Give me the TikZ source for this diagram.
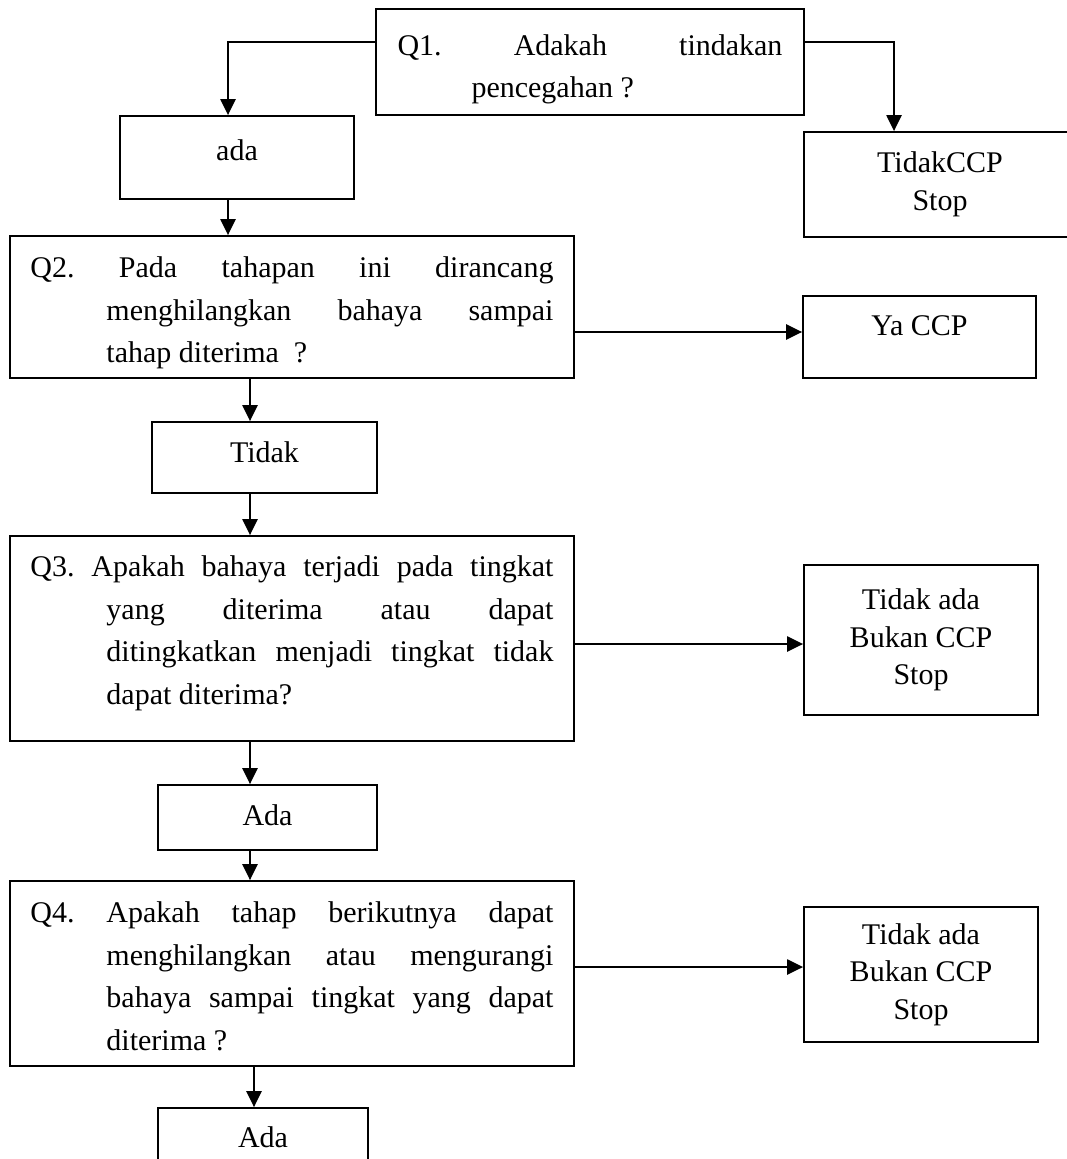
\documentclass[tikz,border=0pt]{standalone}
\usepackage{fontspec}
\setmainfont{Liberation Serif}
\usetikzlibrary{arrows.meta,positioning}

\begin{document}
\begin{tikzpicture}[
        x=0.4pt, y=-0.4pt,
        box/.style={draw, line width=0.7pt, inner sep=0pt, font=\fontsize{12}{15}\selectfont, align=center},
        qbox/.style={box, font=\fontsize{12}{17}\selectfont, text width=209.2pt, align=justify, minimum width=225.6pt},
        arrow/.style={-{Triangle[length=6.4pt,width=6pt]}, line width=0.9pt}
    ]
        \useasboundingbox (0,0) rectangle (1066,1159);

        \node[box, text width=154pt, align=justify, font=\fontsize{12}{17}\selectfont, minimum width=171.2pt, minimum height=42.4pt] (q1) at (590,62)
            {\hangindent=29.6pt\hangafter=1 Q1.\ Adakah tindakan\linebreak pencegahan ?\par\kern-6pt};
        \node[box, minimum width=93.6pt, minimum height=33.2pt, text depth=6pt] (ada1) at (237,157.5) {ada};
        \node[box, minimum width=108.8pt, minimum height=42pt] (notccp) at (940,184.5) {TidakCCP\\Stop};

        \node[qbox, minimum height=56.8pt] (q2) at (292,307)
            {\hangindent=30.4pt\hangafter=1 Q2.\ Pada tahapan ini dirancang\linebreak menghilangkan bahaya sampai\linebreak tahap diterima ~?\par\kern-5pt};
        \node[box, minimum width=93.2pt, minimum height=32.8pt, text depth=8.8pt] (yaccp) at (919.5,337) {Ya CCP};
        \node[box, minimum width=90pt, minimum height=28.4pt, text depth=4.4pt] (tidak) at (264.5,457.5) {Tidak};

        \node[qbox, minimum height=82pt] (q3) at (292,638.5)
            {\hangindent=30.4pt\hangafter=1 Q3.\ Apakah bahaya terjadi pada tingkat\linebreak yang diterima atau dapat\linebreak ditingkatkan menjadi tingkat tidak\linebreak dapat diterima?\par\kern4pt};
        \node[box, minimum width=93.6pt, minimum height=60pt] (bukan1) at (921,640) {Tidak ada\\Bukan CCP\\Stop};
        \node[box, minimum width=87.6pt, minimum height=26pt, text depth=2pt] (ada2) at (267.5,817.5) {Ada};

        \node[qbox, minimum height=74pt] (q4) at (292,973.5)
            {\hangindent=30.4pt\hangafter=1 Q4.\ Apakah tahap berikutnya dapat\linebreak menghilangkan atau mengurangi\linebreak bahaya sampai tingkat yang dapat\linebreak diterima ?\par\kern-2.4pt};
        \node[box, minimum width=93.6pt, minimum height=54pt] (bukan2) at (921,974.5) {Tidak ada\\Bukan CCP\\Stop};
        \node[box, minimum width=84pt, minimum height=26pt, text depth=2.8pt] (ada3) at (263,1140.5) {Ada};

        \draw[arrow] ([yshift=8pt]q1.west) -| ([xshift=-3.6pt]ada1.north);
        \draw[arrow] ([yshift=8pt]q1.east) -| ([xshift=-18.4pt]notccp.north);
        \draw[arrow] ([xshift=-3.6pt]ada1.south) -- ([xshift=-3.6pt]ada1.south |- q2.north);
        \draw[arrow] ([yshift=-10pt]q2.east) -- ([yshift=-10pt]q2.east -| yaccp.west);
        \draw[arrow] ([xshift=-5.8pt]tidak.north |- q2.south) -- ([xshift=-5.8pt]tidak.north);
        \draw[arrow] ([xshift=-5.8pt]tidak.south) -- ([xshift=-5.8pt]tidak.south |- q3.north);
        \draw[arrow] ([yshift=-2.2pt]q3.east) -- ([yshift=-2.2pt]q3.east -| bukan1.west);
        \draw[arrow] ([xshift=-7pt]ada2.north |- q3.south) -- ([xshift=-7pt]ada2.north);
        \draw[arrow] ([xshift=-7pt]ada2.south) -- ([xshift=-7pt]ada2.south |- q4.north);
        \draw[arrow] ([yshift=2.6pt]q4.east) -- ([yshift=2.6pt]q4.east -| bukan2.west);
        \draw[arrow] ([xshift=-3.6pt]ada3.north |- q4.south) -- ([xshift=-3.6pt]ada3.north);

    \end{tikzpicture}
\end{document}
